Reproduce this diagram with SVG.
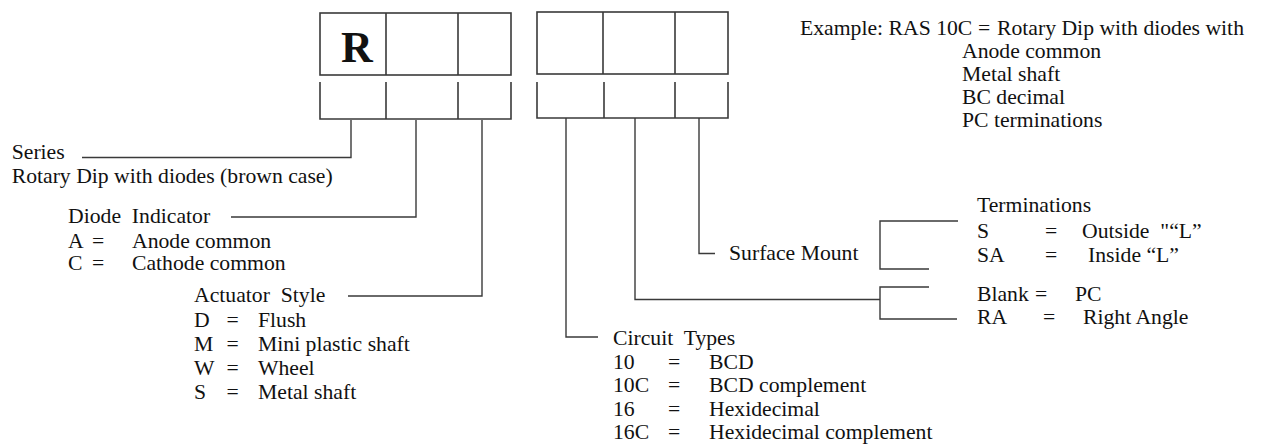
<svg xmlns="http://www.w3.org/2000/svg" width="1266" height="444" viewBox="0 0 1266 444">
<style>
  text { font-family: "Liberation Serif", "Times New Roman", serif; font-size: 21.7px; fill: #111; }
  .box { fill: none; stroke: #3a3a3a; stroke-width: 1.6; }
  .ln { fill: none; stroke: #3a3a3a; stroke-width: 1.4; }
  .big { font-weight: bold; font-size: 44px; }
</style>
<rect width="1266" height="444" fill="#fff"/>
<g id="code-left">
  <rect class="box" x="320" y="13" width="191" height="62"/>
  <path class="box" d="M386,13 V75 M458,13 V75"/>
  <path class="box" d="M320,82 V119 H511 V82 M386,82 V119 M458,82 V119"/>
  <text class="big" x="341" y="62">R</text>
</g>
<g id="code-right">
  <rect class="box" x="537" y="12" width="191" height="62"/>
  <path class="box" d="M603,12 V74 M675,12 V74"/>
  <path class="box" d="M537,82 V118 H728 V82 M604,82 V118 M675,82 V118"/>
</g>
<g id="connectors">
  <path class="ln" d="M351,120 V157.5 H82"/>
  <path class="ln" d="M416,120 V217 H231"/>
  <path class="ln" d="M482,120 V296 H348"/>
  <path class="ln" d="M566,118 V337 H598"/>
  <path class="ln" d="M635,118 V299.5 H880"/>
  <path class="ln" d="M929,287 H880 V319 H957"/>
  <path class="ln" d="M699,118 V253.5 H715"/>
  <path class="ln" d="M958,221 H880 V269 H929"/>
</g>
<g id="series">
  <text x="11.7" y="159">Series</text>
  <text x="11.7" y="183">Rotary Dip with diodes (brown case)</text>
</g>
<g id="diode">
  <text x="68" y="223" xml:space="preserve">Diode  Indicator</text>
  <text y="247.5"><tspan x="68">A</tspan><tspan x="92">=</tspan><tspan x="132">Anode common</tspan></text>
  <text y="270"><tspan x="68">C</tspan><tspan x="92">=</tspan><tspan x="132">Cathode common</tspan></text>
</g>
<g id="actuator">
  <text x="194" y="302" xml:space="preserve">Actuator  Style</text>
  <text y="326.5"><tspan x="194">D</tspan><tspan x="226.5">=</tspan><tspan x="258">Flush</tspan></text>
  <text y="350.5"><tspan x="194">M</tspan><tspan x="226.5">=</tspan><tspan x="258">Mini plastic shaft</tspan></text>
  <text y="374.5"><tspan x="194">W</tspan><tspan x="226.5">=</tspan><tspan x="258">Wheel</tspan></text>
  <text y="398.5"><tspan x="194">S</tspan><tspan x="226.5">=</tspan><tspan x="258">Metal shaft</tspan></text>
</g>
<g id="circuit">
  <text x="613" y="345" xml:space="preserve">Circuit  Types</text>
  <text y="368.5"><tspan x="613">10</tspan><tspan x="668">=</tspan><tspan x="709">BCD</tspan></text>
  <text y="392"><tspan x="613">10C</tspan><tspan x="668">=</tspan><tspan x="709">BCD complement</tspan></text>
  <text y="415.5"><tspan x="613">16</tspan><tspan x="668">=</tspan><tspan x="709">Hexidecimal</tspan></text>
  <text y="439"><tspan x="613">16C</tspan><tspan x="668">=</tspan><tspan x="709">Hexidecimal complement</tspan></text>
</g>
<g id="surface">
  <text x="729" y="260">Surface Mount</text>
</g>
<g id="terminations">
  <text x="977" y="211.5">Terminations</text>
  <text y="238" xml:space="preserve"><tspan x="977">S</tspan><tspan x="1045">=</tspan><tspan x="1082">Outside  "“L”</tspan></text>
  <text y="261.5"><tspan x="977">SA</tspan><tspan x="1045">=</tspan><tspan x="1088">Inside “L”</tspan></text>
  <text y="300.5"><tspan x="977">Blank</tspan><tspan x="1035">=</tspan><tspan x="1075">PC</tspan></text>
  <text y="324"><tspan x="977">RA</tspan><tspan x="1043">=</tspan><tspan x="1083">Right Angle</tspan></text>
</g>
<g id="example">
  <text y="35"><tspan x="800">Example: RAS 10C</tspan><tspan x="978">=</tspan><tspan x="997">Rotary Dip with diodes with</tspan></text>
  <text x="962" y="58">Anode common</text>
  <text x="962" y="81">Metal shaft</text>
  <text x="962" y="104">BC decimal</text>
  <text x="962" y="127">PC terminations</text>
</g>
</svg>
